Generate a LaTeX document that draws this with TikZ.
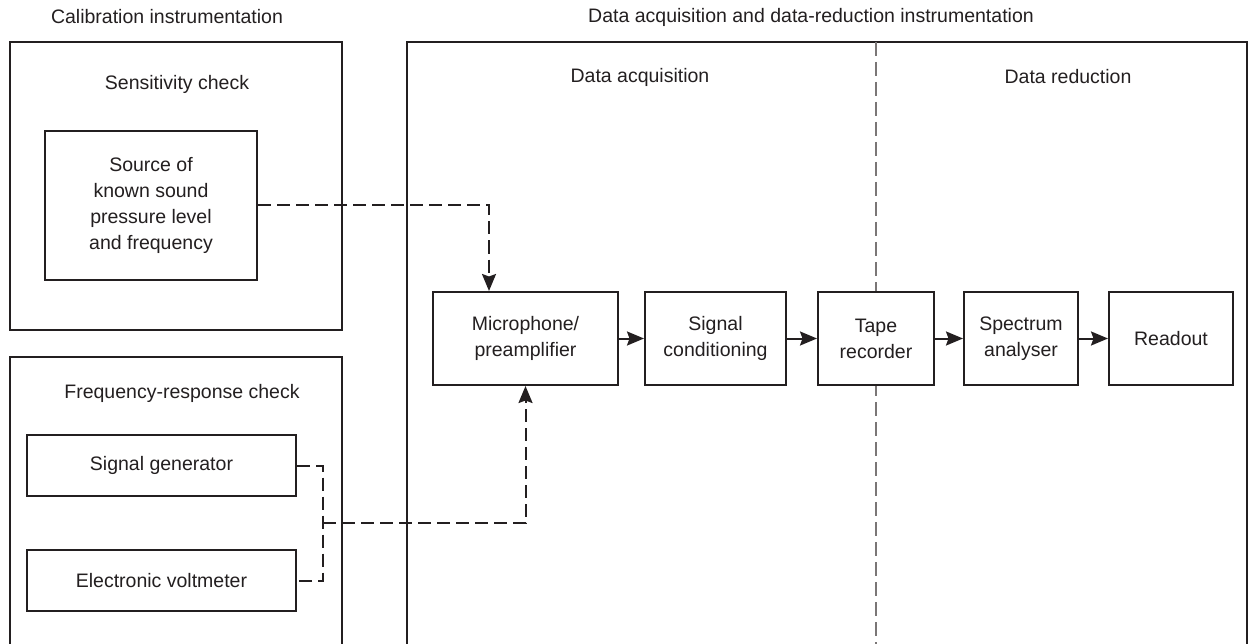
\documentclass[tikz,border=0pt]{standalone}
\usepackage{fontspec}
\setmainfont{Liberation Sans}
\usetikzlibrary{arrows.meta,calc}
\definecolor{ink}{HTML}{231F20}
\definecolor{divgray}{HTML}{7A7676}
\begin{document}
\begin{tikzpicture}[x=1pt,y=-1pt,
  every node/.style={font=\fontsize{19.5}{26}\selectfont, text=ink},
  frame/.style={draw=ink, line width=2pt, rectangle, inner sep=0pt},
  block/.style={frame, fill=white, align=center},
  label/.style={inner sep=0pt, align=center},
  tip/.style={-{Stealth[length=17pt,width=14pt,inset=2.5pt]}},
  flow/.style={draw=ink, line width=2pt, tip},
  dashconn/.style={draw=ink, line width=2pt, dash pattern=on 13pt off 6pt},
  divider/.style={draw=divgray, line width=2pt, dash pattern=on 14pt off 6pt}
]
\clip (0,0) rectangle (1249,644);
\useasboundingbox (0,0) rectangle (1249,644);

% titles
\node[label] (t1) at (167,17) {Calibration instrumentation};
\node[label] (t2) at (811,17) {Data acquisition and data-reduction instrumentation};

% outer frames
\node[frame, minimum width=332pt, minimum height=288pt] (sens) at (176,186) {};
\node[frame, minimum width=332pt, minimum height=303pt] (freq) at (176,508.5) {};
\node[frame, minimum width=840pt, minimum height=618pt] (big) at (827,351) {};

% divider
\coordinate (dtop) at (876,42);
\coordinate (dbot) at (876,660);
\draw[divider] (dtop) -- (dbot);

% frame labels
\node[label] (l1) at (177,84) {Sensitivity check};
\node[label] (l2) at (182,393) {Frequency-response check};
\node[label] (l3) at (640,77) {Data acquisition};
\node[label] (l4) at (1068,77) {Data reduction};

% blocks
\node[block, minimum width=212pt, minimum height=149pt] (src) at (151,205.5) {Source of\\known sound\\pressure level\\and frequency};
\node[block, minimum width=269pt, minimum height=61pt] (sg) at (161.5,465.5) {Signal generator};
\node[block, minimum width=269pt, minimum height=61pt] (vm) at (161.5,580.5) {Electronic voltmeter};

\node[block, minimum width=185pt, minimum height=93pt] (mic) at (525.5,338.5) {Microphone/\\preamplifier};
\node[block, minimum width=141pt, minimum height=93pt] (sc) at (715.5,338.5) {Signal\\conditioning};
\node[block, minimum width=116pt, minimum height=93pt] (tr) at (876,338.5) {Tape\\recorder};
\node[block, minimum width=114pt, minimum height=93pt] (sa) at (1021,338.5) {Spectrum\\analyser};
\node[block, minimum width=124pt, minimum height=93pt] (ro) at (1171,338.5) {Readout};

% signal chain
\draw[flow] (mic) -- (sc);
\draw[flow] (sc) -- (tr);
\draw[flow] (tr) -- (sa);
\draw[flow] (sa) -- (ro);

% calibration connectors
\draw[dashconn, tip] (src.east) -| ([xshift=-36.5pt]mic.north);
\coordinate (j1) at ($(sg.east)+(26,0)$);
\coordinate (j2) at ($(vm.east)+(26,0)$);
\coordinate (jn) at ($(j1)!0.5!(j2)$);
\draw[dashconn] (sg.east) -- (j1) -- (j2) -- (vm.east);
\draw[dashconn, tip] (jn) -| (mic.south);
\end{tikzpicture}
\end{document}
